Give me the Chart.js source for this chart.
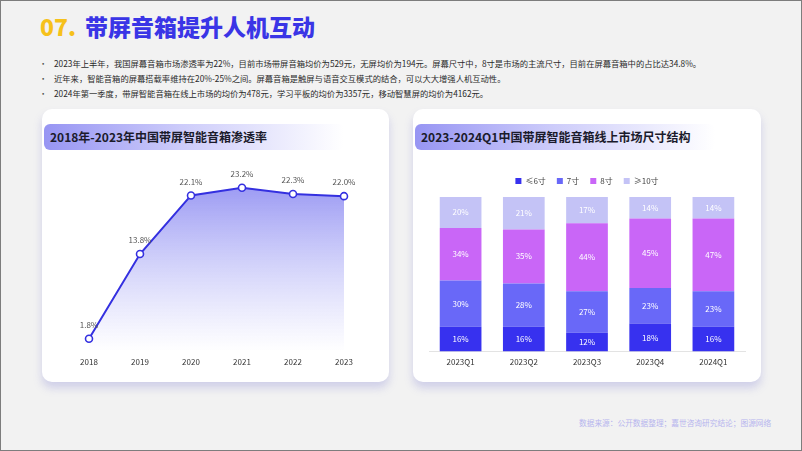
<!DOCTYPE html>
<html>
<head>
<meta charset="utf-8">
<script src="https://cdn.jsdelivr.net/npm/chart.js@4/dist/chart.umd.min.js"></script>
<style>
  html, body { margin: 0; padding: 0; }
  body { width: 802px; height: 451px; overflow: hidden; font-family: "Noto Sans CJK SC", "Noto Sans", sans-serif; }
  .page { position: relative; width: 802px; height: 451px; box-sizing: border-box; border: 1px solid #7d7d7d; background: #f2f2f2; }
  .titulo { position: absolute; left: 39px; top: 8px; font-size: 23px; font-weight: 900; white-space: nowrap; line-height: 34px; }
  .titulo .num { color: #f6c11b; margin-right: 9px; }
  .titulo .txt { color: #3a35e6; }
  .puntos { position: absolute; left: 38px; top: 55px; margin: 0; padding: 0; list-style: none; font-size: 8.3px; color: #2a2a2a; line-height: 15px; white-space: nowrap; }
  .puntos li::before { content: "•"; display: inline-block; width: 15px; color: #555; }
  .card { position: absolute; top: 108px; height: 273px; background: #fff; border-radius: 10px; box-shadow: 0 6px 8px rgba(120, 120, 210, 0.28); }
  .cabecera { position: absolute; left: 2px; top: 15px; width: 300px; height: 26px; border-radius: 6px; background: linear-gradient(90deg, #9795f3 0%, #cccbfa 45%, rgba(255,255,255,0) 100%); }
  .cabecera span { position: absolute; left: 6px; top: 0; line-height: 26px; font-size: 12px; font-weight: 700; color: #1b1b2b; white-space: nowrap; }
  .lienzo { position: absolute; }
  .fuente { position: absolute; left: 578px; top: 416px; font-size: 7.7px; color: #b7b5ee; white-space: nowrap; }
</style>
</head>
<body>
<div class="page">
  <div class="titulo"><span class="num">07.</span><span class="txt">带屏音箱提升人机互动</span></div>
  <ul class="puntos">
    <li>2023年上半年，我国屏幕音箱市场渗透率为22%，目前市场带屏音箱均价为529元，无屏均价为194元。屏幕尺寸中，8寸是市场的主流尺寸，目前在屏幕音箱中的占比达34.8%。</li>
    <li>近年来，智能音箱的屏幕搭载率维持在20%-25%之间。屏幕音箱是触屏与语音交互模式的结合，可以大大增强人机互动性。</li>
    <li>2024年第一季度，带屏智能音箱在线上市场的均价为478元，学习平板的均价为3357元，移动智慧屏的均价为4162元。</li>
  </ul>

  <div class="card" style="left:41px; width:347px;">
    <div class="cabecera"><span>2018年-2023年中国带屏智能音箱渗透率</span></div>
  </div>
  <div class="card" style="left:412px; width:348px;">
    <div class="cabecera"><span>2023-2024Q1中国带屏智能音箱线上市场尺寸结构</span></div>
  </div>

  <div class="lienzo" style="left:41px; top:160px; width:347px; height:220px;"><canvas id="graficoLinea"></canvas></div>
  <div class="lienzo" style="left:412px; top:165px; width:348px; height:215px;"><canvas id="graficoBarras"></canvas></div>

  <div class="fuente">数据来源：公开数据整理；嘉世咨询研究结论；图源网络</div>
</div>

<script>
// datos
const anios = ["2018", "2019", "2020", "2021", "2022", "2023"];
const penetracion = [1.8, 13.8, 22.1, 23.2, 22.3, 22.0];

const trimestres = ["2023Q1", "2023Q2", "2023Q3", "2023Q4", "2024Q1"];
const tamanos = ["≤6寸", "7寸", "8寸", "≥10寸"];
const hasta6 = [16, 16, 12, 18, 16];
const siete = [30, 28, 27, 23, 23];
const ocho = [34, 35, 44, 45, 47];
const desde10 = [20, 21, 17, 14, 14];

const fuente = "'Noto Sans CJK SC', 'Noto Sans', sans-serif";
Chart.defaults.font.family = fuente;

// etiquetas encima de los puntos
const etiquetasLinea = {
  id: "etiquetasLinea",
  afterDatasetsDraw(chart) {
    const ctx = chart.ctx;
    const meta = chart.getDatasetMeta(0);
    ctx.save();
    ctx.font = "8px " + fuente;
    ctx.fillStyle = "#555";
    ctx.textAlign = "center";
    ctx.textBaseline = "middle";
    meta.data.forEach((punto, i) => {
      ctx.fillText(penetracion[i].toFixed(1) + "%", punto.x, punto.y - 14);
    });
    ctx.restore();
  },
};

// etiquetas dentro de las barras
const etiquetasBarras = {
  id: "etiquetasBarras",
  afterDatasetsDraw(chart) {
    const ctx = chart.ctx;
    ctx.save();
    ctx.font = "8px " + fuente;
    ctx.fillStyle = "#ffffff";
    ctx.textAlign = "center";
    ctx.textBaseline = "middle";
    chart.data.datasets.forEach((ds, d) => {
      chart.getDatasetMeta(d).data.forEach((barra, i) => {
        ctx.fillText(ds.data[i] + "%", barra.x, (barra.y + barra.base) / 2);
      });
    });
    ctx.restore();
  },
};

// un poco mas de aire bajo la leyenda
const espacioLeyenda = {
  id: "espacioLeyenda",
  beforeInit(chart) {
    const fitOriginal = chart.legend.fit;
    chart.legend.fit = function () {
      fitOriginal.bind(chart.legend)();
      this.height += 2;
    };
  },
};

function crearGraficoLinea() {
  new Chart(document.getElementById("graficoLinea"), {
    type: "line",
    data: {
      labels: anios,
      datasets: [
        {
          data: penetracion,
          borderColor: "#3430e0",
          borderWidth: 2,
          tension: 0,
          fill: "origin",
          backgroundColor: (c) => {
            const area = c.chart.chartArea;
            if (!area) return "rgba(140,140,240,0.6)";
            const g = c.chart.ctx.createLinearGradient(0, area.top, 0, area.bottom);
            g.addColorStop(0, "rgba(128,126,240,0.85)");
            g.addColorStop(0.5, "rgba(190,190,248,0.7)");
            g.addColorStop(1, "rgba(255,255,255,0.6)");
            return g;
          },
          pointRadius: 3.5,
          pointBorderWidth: 1.6,
          pointBackgroundColor: "#ffffff",
          pointBorderColor: "#3430e0",
        },
      ],
    },
    options: {
      responsive: true,
      maintainAspectRatio: false,
      animation: false,
      layout: { padding: { left: 47, right: 45, top: 14, bottom: 8 } },
      plugins: { legend: { display: false }, tooltip: { enabled: false } },
      scales: {
        x: {
          grid: { display: false, drawTicks: false },
          border: { display: false },
          ticks: { color: "#333", font: { size: 8 }, padding: 6 },
        },
        y: { display: false, min: 0, max: 25 },
      },
    },
    plugins: [etiquetasLinea],
  });
}

function crearGraficoBarras() {
  const colores = ["#3731ef", "#6968f8", "#c966f7", "#c4c3f6"];
  const series = [hasta6, siete, ocho, desde10];

  new Chart(document.getElementById("graficoBarras"), {
    type: "bar",
    data: {
      labels: trimestres,
      datasets: series.map((valores, i) => ({
        label: tamanos[i],
        data: valores,
        backgroundColor: colores[i],
        barPercentage: 0.66,
        categoryPercentage: 1,
      })),
    },
    options: {
      responsive: true,
      maintainAspectRatio: false,
      animation: false,
      layout: { padding: { left: 16, right: 16, top: 0, bottom: 8 } },
      plugins: {
        tooltip: { enabled: false },
        legend: {
          position: "top",
          labels: { boxWidth: 6, boxHeight: 6, padding: 11, color: "#444", font: { size: 8 } },
        },
      },
      scales: {
        x: {
          stacked: true,
          grid: { display: false, drawTicks: false },
          border: { display: true, color: "#e3e3e3" },
          ticks: { color: "#333", font: { size: 8 }, padding: 6 },
        },
        y: { stacked: true, display: false, min: 0, max: 100 },
      },
    },
    plugins: [etiquetasBarras, espacioLeyenda],
  });
}

crearGraficoLinea();
crearGraficoBarras();
</script>
</body>
</html>
